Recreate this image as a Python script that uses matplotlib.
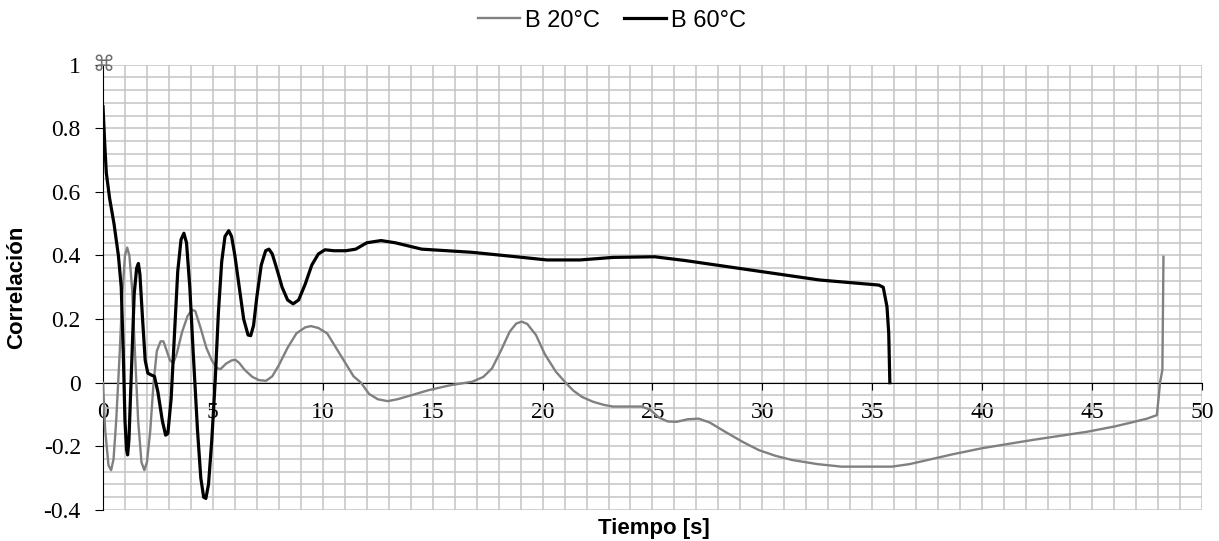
import numpy as np
import matplotlib.pyplot as plt
from matplotlib.ticker import MultipleLocator

# Datos (tiempo en s, correlacion)
t_20 = [0, 0.1, 0.25, 0.37, 0.48, 0.6, 0.75, 0.88, 1.0, 1.1, 1.2, 1.32, 1.45, 1.6,
        1.75, 1.88, 2.0, 2.15, 2.3, 2.45, 2.62, 2.75, 2.9, 3.05, 3.2, 3.35, 3.6, 3.85,
        4.05, 4.2, 4.45, 4.7, 4.95, 5.2, 5.35, 5.6, 5.85, 6.02, 6.2, 6.45, 6.8, 7.1,
        7.42, 7.7, 8.0, 8.4, 8.8, 9.2, 9.46, 9.8, 10.2, 10.6, 11.0, 11.4, 11.74, 12.1,
        12.5, 12.95, 13.4, 13.9, 14.84, 15.8, 16.8, 17.3, 17.7, 18.1, 18.5, 18.8,
        19.05, 19.3, 19.7, 20.1, 20.6, 21.05, 21.4, 21.8, 22.3, 22.8, 23.2, 24.5,
        24.9, 25.3, 25.7, 26.1, 26.6, 27.1, 27.6, 28.3, 29.1, 29.84, 30.6, 31.35,
        32.5, 33.6, 35.9, 36.7, 37.4, 38.6, 40.0, 42.3, 44.8, 46.0, 46.8, 47.5,
        47.95, 48.1, 48.2, 48.25]
c_20 = [0.0, -0.15, -0.26, -0.275, -0.24, -0.12, 0.08, 0.28, 0.4, 0.425, 0.4, 0.3,
        0.1, -0.12, -0.25, -0.275, -0.25, -0.15, 0.0, 0.1, 0.13, 0.13, 0.1, 0.07,
        0.062, 0.09, 0.16, 0.21, 0.229, 0.225, 0.17, 0.11, 0.07, 0.045, 0.043, 0.06,
        0.07, 0.072, 0.062, 0.04, 0.018, 0.008, 0.006, 0.02, 0.055, 0.11, 0.155,
        0.174, 0.178, 0.172, 0.155, 0.11, 0.065, 0.02, 0.0, -0.035, -0.052, -0.058,
        -0.052, -0.042, -0.023, -0.008, 0.003, 0.018, 0.045, 0.1, 0.16, 0.186, 0.192,
        0.185, 0.15, 0.09, 0.035, 0.0, -0.025, -0.045, -0.06, -0.07, -0.075, -0.075,
        -0.085, -0.11, -0.122, -0.123, -0.115, -0.113, -0.125, -0.154, -0.186,
        -0.212, -0.23, -0.243, -0.256, -0.264, -0.264, -0.256, -0.245, -0.226,
        -0.206, -0.18, -0.154, -0.138, -0.125, -0.113, -0.102, 0.003, 0.04, 0.396]

t_60 = [0, 0.08, 0.15, 0.3, 0.5, 0.7, 0.83, 0.92, 1.0, 1.07, 1.12, 1.18, 1.3, 1.42,
        1.53, 1.61, 1.68, 1.8, 1.92, 2.04, 2.2, 2.34, 2.5, 2.7, 2.85, 2.95, 3.1, 3.25,
        3.4, 3.55, 3.68, 3.8, 3.95, 4.1, 4.3, 4.45, 4.58, 4.68, 4.8, 4.95, 5.1, 5.25,
        5.4, 5.55, 5.72, 5.85, 6.0, 6.2, 6.4, 6.6, 6.72, 6.85, 7.0, 7.2, 7.4, 7.55,
        7.7, 7.9, 8.15, 8.4, 8.65, 8.9, 9.2, 9.5, 9.8, 10.1, 10.5, 11.05, 11.5, 12.0,
        12.65, 13.3, 14.5, 16.8, 18.8, 20.2, 21.7, 23.2, 25.1, 26.5, 30.0, 32.6,
        35.3, 35.5, 35.67, 35.75, 35.8]
c_60 = [0.868, 0.75, 0.66, 0.58, 0.5, 0.4, 0.3, 0.1, -0.12, -0.21, -0.227, -0.18,
        0.05, 0.28, 0.36, 0.375, 0.34, 0.2, 0.07, 0.03, 0.024, 0.02, -0.03, -0.12,
        -0.165, -0.16, -0.05, 0.15, 0.35, 0.45, 0.47, 0.44, 0.3, 0.1, -0.15, -0.3,
        -0.36, -0.364, -0.32, -0.18, 0.0, 0.22, 0.38, 0.46, 0.478, 0.46, 0.4, 0.3,
        0.2, 0.15, 0.148, 0.18, 0.27, 0.37, 0.415, 0.42, 0.405, 0.36, 0.3, 0.26,
        0.248, 0.26, 0.31, 0.37, 0.405, 0.418, 0.415, 0.415, 0.42, 0.44, 0.447, 0.44,
        0.42, 0.41, 0.396, 0.386, 0.386, 0.394, 0.396, 0.384, 0.349, 0.323, 0.307,
        0.30, 0.239, 0.155, 0.0]

series_names = ['B 20°C', 'B 60°C']
x_ticks = [0, 5, 10, 15, 20, 25, 30, 35, 40, 45, 50]
y_ticks = [-0.4, -0.2, 0, 0.2, 0.4, 0.6, 0.8, 1]

fig = plt.figure(figsize=(12.19, 5.41), dpi=100)
ax = fig.add_axes([0.0845, 0.0575, 0.9015, 0.8229])

ax.plot(t_20, c_20, color='#808080', lw=1.7, label=series_names[0], zorder=3,
        solid_joinstyle='round')
ax.plot(t_60, c_60, color='black', lw=2.3, label=series_names[1], zorder=4,
        solid_joinstyle='round')

ax.set_xlim(0, 50)
ax.set_ylim(-0.4, 1)

# cuadricula fina: cada 1 s y cada 0.04
ax.xaxis.set_minor_locator(MultipleLocator(1))
ax.yaxis.set_minor_locator(MultipleLocator(0.04))
ax.grid(which='both', color='#c4c4c4', lw=1.1, zorder=0)
ax.tick_params(which='minor', length=0)

ax.spines['top'].set_visible(False)
ax.spines['right'].set_visible(False)
ax.spines['bottom'].set_position(('data', 0))
ax.spines['left'].set_color('black')
ax.spines['bottom'].set_color('black')

ax.set_xticks(x_ticks)
ax.set_yticks(y_ticks)
ax.set_xticklabels([str(v) for v in x_ticks], family='Liberation Serif', fontsize=17)
ax.set_yticklabels(['-0.4', '-0.2', '0', '0.2', '0.4', '0.6', '0.8', '1'],
                   family='Liberation Serif', fontsize=17)
ax.tick_params(axis='x', which='major', direction='out', length=5, pad=9)
ax.tick_params(axis='y', which='major', direction='out', length=6, pad=10)

ax.set_ylabel('Correlación', family='Liberation Sans', fontweight='bold', fontsize=16,
              labelpad=12)
fig.text(0.536, 0.024, 'Tiempo [s]', family='Liberation Sans', fontweight='bold',
         fontsize=16, ha='center', va='center')

# simbolo en la esquina superior izquierda
ax.text(0, 1, '\u2318', color='#707070', fontsize=16, ha='center', va='center',
        family='DejaVu Sans', clip_on=False, zorder=5)

fig.legend(loc='center', bbox_to_anchor=(0.502, 0.962), ncol=2, frameon=False,
           prop={'family': 'Liberation Sans', 'size': 17}, handlelength=1.8,
           handletextpad=0.2, columnspacing=1.0)

fig.savefig('out.png', dpi=100)
